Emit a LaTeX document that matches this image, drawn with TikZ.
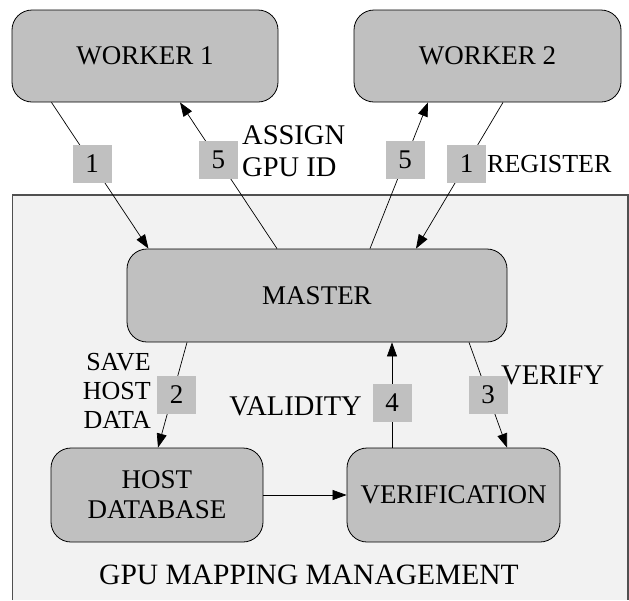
\documentclass[tikz,border=0pt]{standalone}
\usepackage{fontspec}
\setmainfont{Liberation Serif}
\usetikzlibrary{arrows.meta,calc}
\definecolor{boxgray}{HTML}{C0C0C0}
\definecolor{panelgray}{HTML}{F2F2F2}
\definecolor{edgegray}{HTML}{505050}
\begin{document}
\begin{tikzpicture}[x=1pt,y=-1pt,
  every node/.style={font=\fontsize{27}{29}\selectfont},
  proc/.style={draw=black, fill=boxgray, rounded corners=20pt, line width=0.8pt, inner sep=0pt, align=center},
  numbox/.style={fill=boxgray, minimum width=39pt, minimum height=38pt, inner sep=0pt},
  conn/.style={line width=0.7pt, -{Triangle[length=14pt,width=10pt]}},
  txt/.style={inner sep=0pt},
  big/.style={font=\fontsize{28.5}{32}\selectfont}
  ]
\useasboundingbox (0,0) rectangle (629,600);
\fill[white] (0,0) rectangle (629,600);
\fill[panelgray] (12.5,195) rectangle (628,600);
\draw[edgegray, line width=1.2pt] (12.5,600) -- (12.5,195) -- (628,195) -- (628,600);

\node[proc, minimum width=266pt, minimum height=92pt] (w1) at (145,56) {WORKER 1};
\node[proc, minimum width=267pt, minimum height=92pt] (w2) at (487.5,56) {WORKER 2};
\node[proc, minimum width=380pt, minimum height=93pt] (m) at (317,295.5) {MASTER};
\node[proc, minimum width=212pt, minimum height=94pt, font=\fontsize{27}{30}\selectfont] (h) at (157,495) {HOST\\DATABASE};
\node[proc, minimum width=213pt, minimum height=94pt] (v) at (453.5,495) {VERIFICATION};

\draw[conn] ($(w1.south)+(-93.5,0)$) -- node[numbox,pos=0.418] (n1a) {1} ($(m.north)+(-168.5,0)$);
\draw[conn] ($(m.north)+(-40,0)$) -- node[numbox,pos=0.605] (n5a) {5} ($(w1.south)+(35,0)$);
\draw[conn] ($(m.north)+(53,0)$) -- node[numbox,pos=0.605] (n5b) {5} ($(w2.south)+(-59.5,0)$);
\draw[conn] ($(w2.south)+(15.5,0)$) -- node[numbox,pos=0.418] (n1b) {1} ($(m.north)+(99,0)$);
\draw[conn] ($(m.south)+(-130,0)$) -- node[numbox,pos=0.5,xshift=4pt] (n2) {2} ($(h.north)+(1,0)$);
\draw[conn] ($(v.north)+(-61.5,0)$) -- node[numbox,pos=0.425] (n4) {4} ($(m.south)+(75,0)$);
\draw[conn] ($(m.south)+(152,0)$) -- node[numbox,pos=0.5] (n3) {3} ($(v.north)+(53.5,0)$);
\draw[conn] (h) -- (v);

\node[txt, big, anchor=west, align=left] (assign) at (242,151) {ASSIGN\\GPU ID};
\node[txt, anchor=west, font=\fontsize{26}{29}\selectfont] (reg) at (487,164) {REGISTER};
\node[txt, anchor=east, align=right, font=\fontsize{26}{29}\selectfont] (save) at (151,391) {SAVE\\HOST\\DATA};
\node[txt, big, anchor=east] (valid) at (362,406) {VALIDITY};
\node[txt, big, anchor=west] (verify) at (501,375) {VERIFY};
\node[txt, font=\fontsize{29.5}{30}\selectfont] (gpu) at (309,575) {GPU MAPPING MANAGEMENT};
\end{tikzpicture}
\end{document}
